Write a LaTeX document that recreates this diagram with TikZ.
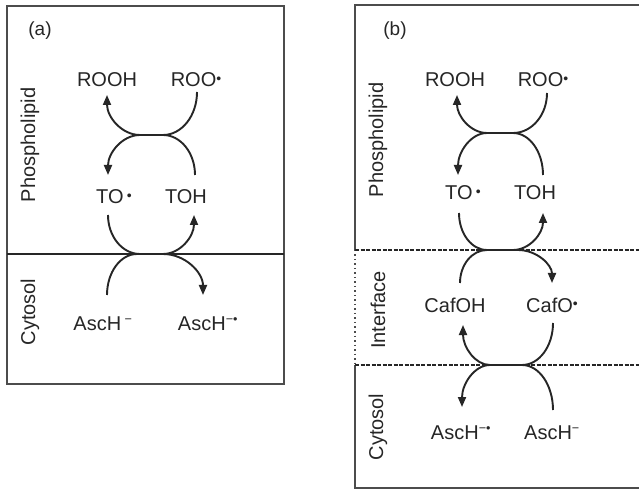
\documentclass[tikz,border=0pt]{standalone}
\usepackage{fontspec}
\setmainfont{Liberation Sans}
\usetikzlibrary{arrows.meta}
% small radical dot and charge superscripts
\newcommand{\rdot}{\raisebox{0.3ex}{\scalebox{0.7}{•}}}
\newcommand{\chg}[1]{\textsuperscript{\scalebox{0.9}{#1}}}
\tikzset{
  lbl/.style={font=\fontsize{20}{22}\selectfont, text=black!85, inner sep=1pt},
  side/.style={lbl, rotate=90},
  tag/.style={lbl, font=\fontsize{19}{21}\selectfont},
  frame/.style={draw=black!70, line width=2.2pt},
  wall/.style={draw=black!85, line width=2.8pt},
  dwall/.style={draw=black!85, line width=2.6pt, dash pattern=on 4pt off 1.5pt},
  flow/.style={draw=black!85, line width=1.9pt},
  arr/.style={flow, -{Triangle[length=10pt,width=8pt]}},
}
\begin{document}
\begin{tikzpicture}[x=1pt,y=1pt]
\useasboundingbox[fill=white] (0,0) rectangle (639,490);

% ---------------- panel (a) ----------------
\draw[frame] (7,106) rectangle (284,484);
\draw[wall] (7,236) -- (284,236);
\node[tag] (ta) at (40,459) {(a)};
\node[side] (pa) at (30,345) {Phospholipid};
\node[side] (ca) at (30,178) {Cytosol};

\node[lbl] (rooha) at (107,410) {ROOH};
\node[lbl] (rooa)  at (196,410) {ROO\rdot};
\node[lbl] (toa)   at (114,293) {TO\,\rdot};
\node[lbl] (toha)  at (186,293) {TOH};
\node[lbl] (asca)  at (103,166) {AscH\chg{ −}};
\node[lbl] (ascra) at (208,166) {AscH\chg{−•}};

% peroxyl radical reduced by tocopherol
\coordinate (a1) at (197,398);
\draw[arr] (a1) arc[start angle=0,end angle=-90,x radius=34,y radius=43]
  -- (140,355) arc[start angle=270,end angle=180,x radius=33,y radius=40];
\coordinate (a2) at (195,315);
\draw[arr] (a2) arc[start angle=0,end angle=90,x radius=32,y radius=40]
  -- (140,355) arc[start angle=90,end angle=180,x radius=32,y radius=40];
% tocopherol regeneration by ascorbate
\coordinate (a3) at (108,275);
\draw[arr] (a3) arc[start angle=180,end angle=270,x radius=32,y radius=39]
  -- (163,236) arc[start angle=270,end angle=360,x radius=31,y radius=39];
\coordinate (a4) at (107,195);
\draw[arr] (a4) arc[start angle=180,end angle=90,x radius=30,y radius=41]
  -- (163,236) arc[start angle=90,end angle=0,x radius=40,y radius=41];

% ---------------- panel (b) ----------------
\draw[frame] (639,485) -- (355,485) -- (355,240);
\draw[frame] (355,125) -- (355,2) -- (639,2);
\draw[draw=black!70, line width=2pt, dash pattern=on 1.5pt off 3pt] (355,240) -- (355,125);
\draw[dwall] (355,240) -- (639,240);
\draw[dwall] (355,125) -- (639,125);
\node[tag] (tb) at (395,459) {(b)};
\node[side] (pb) at (378,350) {Phospholipid};
\node[side] (ib) at (378,180) {Interface};
\node[side] (cb) at (378,63)  {Cytosol};

\node[lbl] (roohb) at (455,410) {ROOH};
\node[lbl] (roob)  at (543,410) {ROO\rdot};
\node[lbl] (tob)   at (463,297) {TO\,\rdot};
\node[lbl] (tohb)  at (535,297) {TOH};
\node[lbl] (cafoh) at (455,185) {CafOH};
\node[lbl] (cafo)  at (552,185) {CafO\rdot};
\node[lbl] (ascrb) at (461,57)  {AscH\chg{−•}};
\node[lbl] (ascb)  at (552,57)  {AscH\chg{−}};

% peroxyl radical reduced by tocopherol
\coordinate (b1) at (547,397);
\draw[arr] (b1) arc[start angle=0,end angle=-90,x radius=34,y radius=40]
  -- (487,357) arc[start angle=270,end angle=180,x radius=30,y radius=38];
\coordinate (b2) at (543,315);
\draw[arr] (b2) arc[start angle=0,end angle=90,x radius=30,y radius=42]
  -- (487,357) arc[start angle=90,end angle=180,x radius=29,y radius=42];
% tocopherol regenerated by caffeic acid at the interface
\coordinate (b3) at (459,277);
\draw[arr] (b3) arc[start angle=180,end angle=270,x radius=28,y radius=37]
  -- (513,240) arc[start angle=270,end angle=360,x radius=30,y radius=37];
\coordinate (b4) at (460,207);
\draw[arr] (b4) arc[start angle=180,end angle=90,x radius=27,y radius=33]
  -- (518,240) arc[start angle=90,end angle=0,x radius=34,y radius=33];
% caffeic acid regenerated by ascorbate
\coordinate (b5) at (553,167);
\draw[arr] (b5) arc[start angle=0,end angle=-90,x radius=31,y radius=42]
  -- (490,125) arc[start angle=270,end angle=180,x radius=27,y radius=40];
\coordinate (b6) at (553,80);
\draw[arr] (b6) arc[start angle=0,end angle=90,x radius=31,y radius=45]
  -- (490,125) arc[start angle=90,end angle=180,x radius=28,y radius=42];
\end{tikzpicture}
\end{document}
